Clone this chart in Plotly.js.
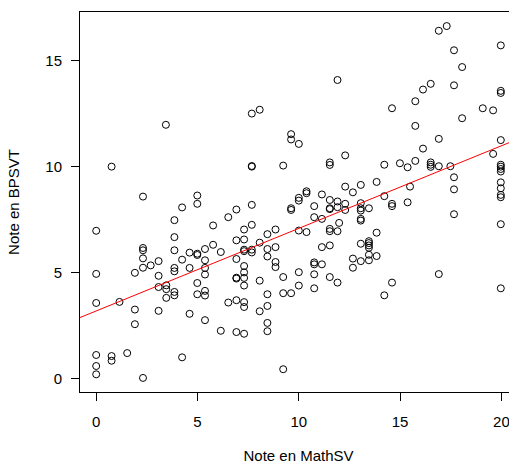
<!DOCTYPE html>
<html>
<head>
<meta charset="utf-8">
<script src="https://cdn.plot.ly/plotly-3.0.1.min.js"></script>
<style>
html,body{margin:0;padding:0;overflow:hidden;background:#fff;}
#chart{width:518px;height:464px;}
</style>
</head>
<body>
<div id="chart"></div>
<script>
// Note en MathSV (x) grouped by column, with the Note en BPSVT values (y) at each column
const mathColumns = [0, 0.76, 1.15, 1.53, 1.91, 2.31, 2.69, 3.08, 3.44, 3.46, 3.86, 4.24, 4.61, 4.99, 5.37, 5.77, 6.15, 6.52, 6.92, 7.30, 7.68, 8.07, 8.45, 8.85, 9.23, 9.62, 10.0, 10.38, 10.76, 11.14, 11.53, 11.91, 11.99, 12.29, 12.67, 13.06, 13.46, 13.84, 14.22, 14.60, 14.99, 15.37, 15.49, 15.75, 16.13, 16.51, 16.91, 17.30, 17.48, 17.66, 18.06, 19.08, 19.59, 19.97];
const bpsvtByColumn = [
  [6.98, 4.95, 3.58, 1.13, 0.61, 0.22],
  [10.0, 1.08, 0.86],
  [3.63],
  [1.22],
  [5.0, 3.27, 2.58],
  [8.59, 6.17, 6.06, 5.68, 5.24, 0.05],
  [5.35],
  [5.55, 4.86, 4.33, 3.21],
  [11.97],
  [4.41, 4.23, 3.82],
  [7.48, 6.68, 6.06, 5.23, 5.07, 4.10, 3.94],
  [8.08, 5.62, 1.02],
  [5.95, 5.23, 3.07],
  [8.64, 8.25, 5.90, 5.84, 4.52, 3.99],
  [6.12, 5.59, 5.23, 4.92, 4.15, 3.93, 2.77],
  [7.23, 6.32],
  [5.98, 2.27],
  [7.62, 3.60],
  [7.98, 6.53, 5.65, 4.77, 4.73, 3.71, 2.21],
  [7.04, 6.57, 6.09, 6.02, 5.32, 5.02, 4.76, 4.40, 3.62, 3.39, 2.13],
  [12.50, 10.03, 10.0, 8.20, 7.26, 6.09, 5.96],
  [12.68, 6.42, 4.63, 3.19],
  [6.82, 6.12, 5.77, 3.99, 3.44, 2.64, 2.25],
  [7.04, 6.21, 5.51, 5.27],
  [10.05, 4.80, 4.04, 0.46],
  [11.53, 11.28, 8.04, 7.96, 4.04],
  [11.07, 8.53, 8.40, 6.99, 5.03, 4.40],
  [8.84, 8.75, 6.92],
  [8.14, 7.62, 5.49, 5.40, 4.93, 4.27],
  [8.69, 7.54, 6.21, 5.40],
  [10.20, 10.08, 8.43, 8.04, 8.00, 7.07, 6.96, 6.29, 4.80],
  [14.08, 8.36, 8.09, 6.96, 4.54],
  [7.35],
  [10.53, 9.06, 8.25, 7.96],
  [8.79, 5.67, 5.24],
  [9.14, 8.28, 8.04, 7.93, 7.54, 7.46, 6.37, 5.55],
  [8.04, 6.49, 6.40, 6.29, 6.18, 5.85, 5.59],
  [9.28, 6.89, 5.79],
  [10.09, 8.61, 3.94],
  [12.75, 8.25, 8.14, 4.54],
  [10.16],
  [9.97, 8.32],
  [9.06],
  [13.08, 11.92, 10.27],
  [13.63, 10.85],
  [13.90, 10.20, 10.09, 9.99],
  [16.40, 11.31, 10.02, 4.94],
  [16.62],
  [10.02],
  [15.48, 13.83, 9.50, 8.93, 7.76],
  [14.69, 12.28],
  [12.75],
  [12.65, 10.60],
  [15.71, 13.57, 13.47, 11.25, 10.09, 10.0, 9.89, 9.77, 9.26, 8.98, 8.67, 8.56, 7.29, 4.27]
];
const xTicks = [0, 5, 10, 15, 20];
const yTicks = [0, 5, 10, 15];
const xLabel = "Note en MathSV";
const yLabel = "Note en BPSVT";

const xs = [], ys = [];
mathColumns.forEach((xv, i) => bpsvtByColumn[i].forEach(yv => { xs.push(xv); ys.push(yv); }));

// least-squares regression line (as abline(lm(y ~ x)))
const n = xs.length;
const mx = xs.reduce((a, b) => a + b, 0) / n;
const my = ys.reduce((a, b) => a + b, 0) / n;
let sxy = 0, sxx = 0;
for (let i = 0; i < n; i++) { sxy += (xs[i] - mx) * (ys[i] - my); sxx += (xs[i] - mx) ** 2; }
const slope = sxy / sxx;
const intercept = my - slope * mx;

const xmin = Math.min(...xs), xmax = Math.max(...xs);
const ymin = Math.min(...ys), ymax = Math.max(...ys);
const xr = [xmin - 0.04 * (xmax - xmin), xmax + 0.04 * (xmax - xmin)];
const yr = [ymin - 0.04 * (ymax - ymin), ymax + 0.04 * (ymax - ymin)];

const font = {family: "Liberation Sans, Arial, sans-serif", size: 15, color: "#000"};

const data = [
  {type: "scatter", mode: "markers", x: xs, y: ys,
   marker: {symbol: "circle-open", size: 7, color: "#000", line: {width: 1, color: "#000"}},
   hoverinfo: "x+y"},
  {type: "scatter", mode: "lines", x: xr, y: xr.map(v => intercept + slope * v),
   line: {color: "#ff0000", width: 1}}
];

const layout = {
  width: 518, height: 464,
  margin: {l: 80, r: 1, t: 12, b: 72},
  showlegend: false,
  paper_bgcolor: "#fff", plot_bgcolor: "#fff",
  font: font,
  xaxis: {range: xr, tickvals: xTicks, ticktext: xTicks.map(String),
          ticks: "outside", ticklen: 8, tickcolor: "#000", tickwidth: 1,
          showline: true, linecolor: "#000", linewidth: 1, mirror: true,
          showgrid: false, zeroline: false, ticklabelstandoff: 8,
          tickfont: font, title: {text: xLabel, font: font, standoff: 22}},
  yaxis: {range: yr, tickvals: yTicks, ticktext: yTicks.map(String),
          ticks: "outside", ticklen: 8, tickcolor: "#000", tickwidth: 1,
          showline: true, linecolor: "#000", linewidth: 1, mirror: true,
          showgrid: false, zeroline: false, ticklabelstandoff: 6,
          tickfont: font, title: {text: yLabel, font: font, standoff: 22}}
};

Plotly.newPlot("chart", data, layout, {staticPlot: true});
</script>
</body>
</html>
